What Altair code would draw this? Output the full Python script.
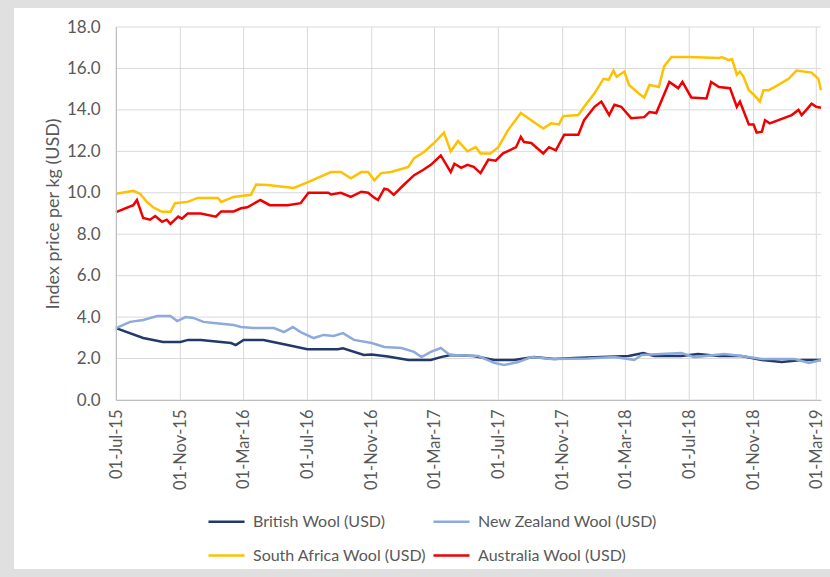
import altair as alt
import pandas as pd

# Wool price indices, USD per kg
SERIES = [
    "British Wool (USD)",
    "New Zealand Wool (USD)",
    "South Africa Wool (USD)",
    "Australia Wool (USD)",
]
COLORS = ["#22396A", "#8EAADB", "#FFC000", "#F00000"]

british_dates = [
    "2015-07-01", "2015-08-22", "2015-09-29", "2015-11-01", "2015-11-16", "2015-12-10",
    "2016-02-06", "2016-02-15", "2016-03-01", "2016-04-08", "2016-05-24", "2016-07-01",
    "2016-08-28", "2016-09-07", "2016-10-17", "2016-11-01", "2016-12-02", "2017-01-10",
    "2017-02-22", "2017-03-13", "2017-04-01", "2017-05-15", "2017-06-23", "2017-07-31",
    "2017-09-07", "2017-10-16", "2017-11-23", "2018-01-14", "2018-03-07", "2018-04-04",
    "2018-04-25", "2018-06-16", "2018-07-18", "2018-08-27", "2018-10-09", "2018-11-17",
    "2018-12-25", "2019-02-01", "2019-03-10",
]
british_values = [
    3.47, 2.99, 2.80, 2.80, 2.90, 2.90,
    2.75, 2.65, 2.90, 2.90, 2.65, 2.45,
    2.45, 2.50, 2.17, 2.20, 2.10, 1.93,
    1.93, 2.07, 2.17, 2.12, 1.93, 1.93,
    2.07, 1.98, 2.03, 2.07, 2.12, 2.27,
    2.12, 2.12, 2.22, 2.12, 2.12, 1.93,
    1.83, 1.93, 1.93,
]

nz_dates = [
    "2015-07-01", "2015-07-28", "2015-08-22", "2015-09-18", "2015-10-13", "2015-10-26",
    "2015-11-11", "2015-11-26", "2015-12-15", "2016-01-04", "2016-02-11", "2016-02-25",
    "2016-03-20", "2016-04-28", "2016-05-17", "2016-06-03", "2016-06-18", "2016-07-13",
    "2016-08-01", "2016-08-20", "2016-09-07", "2016-09-28", "2016-11-01", "2016-11-25",
    "2016-12-28", "2017-01-21", "2017-02-04", "2017-02-22", "2017-03-13", "2017-03-28",
    "2017-04-01", "2017-05-24", "2017-06-23", "2017-07-12", "2017-08-08", "2017-09-02",
    "2017-10-10", "2017-12-19", "2018-02-08", "2018-03-18", "2018-04-01", "2018-05-08",
    "2018-06-16", "2018-07-11", "2018-09-06", "2018-10-09", "2018-11-17", "2019-01-19",
    "2019-02-15", "2019-03-10",
]
nz_values = [
    3.47, 3.77, 3.86, 4.05, 4.05, 3.81,
    4.00, 3.96, 3.77, 3.72, 3.62, 3.52,
    3.47, 3.47, 3.28, 3.52, 3.28, 2.99,
    3.14, 3.09, 3.23, 2.90, 2.75, 2.56,
    2.51, 2.32, 2.07, 2.32, 2.51, 2.22,
    2.17, 2.12, 1.79, 1.69, 1.83, 2.07,
    1.98, 2.00, 2.07, 1.93, 2.17, 2.22,
    2.27, 2.07, 2.22, 2.12, 1.98, 1.98,
    1.79, 1.93,
]

sa_dates = [
    "2015-07-01", "2015-08-03", "2015-08-16", "2015-08-29", "2015-09-10", "2015-09-27",
    "2015-10-13", "2015-10-22", "2015-11-15", "2015-12-04", "2016-01-12", "2016-01-18",
    "2016-02-11", "2016-03-15", "2016-03-25", "2016-04-16", "2016-06-05", "2016-07-01",
    "2016-08-15", "2016-09-03", "2016-09-22", "2016-10-12", "2016-10-25", "2016-11-06",
    "2016-11-19", "2016-12-08", "2017-01-10", "2017-01-21", "2017-02-09", "2017-02-28",
    "2017-03-19", "2017-04-01", "2017-04-15", "2017-05-03", "2017-05-19", "2017-05-28",
    "2017-06-16", "2017-07-01", "2017-07-19", "2017-08-13", "2017-09-02", "2017-09-25",
    "2017-10-10", "2017-10-25", "2017-11-02", "2017-12-01", "2017-12-12", "2018-01-01",
    "2018-01-18", "2018-01-28", "2018-02-06", "2018-02-12", "2018-02-27", "2018-03-08",
    "2018-03-26", "2018-04-06", "2018-04-16", "2018-05-04", "2018-05-14", "2018-05-28",
    "2018-06-30", "2018-08-27", "2018-09-01", "2018-09-15", "2018-09-21", "2018-09-30",
    "2018-10-06", "2018-10-13", "2018-10-23", "2018-11-03", "2018-11-13", "2018-11-20",
    "2018-11-30", "2018-12-11", "2019-01-07", "2019-01-22", "2019-02-20", "2019-03-05",
    "2019-03-10",
]
sa_values = [
    9.95, 10.10, 9.95, 9.56, 9.30, 9.08,
    9.08, 9.50, 9.56, 9.75, 9.75, 9.56,
    9.80, 9.90, 10.40, 10.38, 10.23, 10.50,
    11.00, 11.00, 10.70, 11.00, 11.00, 10.60,
    10.95, 11.00, 11.25, 11.67, 11.97, 12.40,
    12.90, 12.00, 12.50, 12.00, 12.20, 11.90,
    11.90, 12.20, 13.00, 13.85, 13.50, 13.10,
    13.35, 13.30, 13.70, 13.75, 14.15, 14.80,
    15.50, 15.45, 15.90, 15.60, 15.85, 15.20,
    14.80, 14.60, 15.20, 15.10, 16.10, 16.55,
    16.55, 16.50, 16.55, 16.40, 16.45, 15.70,
    15.85, 15.60, 14.95, 14.70, 14.40, 14.95,
    14.95, 15.10, 15.50, 15.90, 15.80, 15.50,
    14.95,
]

aus_dates = [
    "2015-07-01", "2015-08-03", "2015-08-10", "2015-08-22", "2015-09-04", "2015-09-14",
    "2015-09-27", "2015-10-06", "2015-10-13", "2015-10-28", "2015-11-04", "2015-11-15",
    "2015-12-10", "2016-01-08", "2016-01-18", "2016-02-11", "2016-02-25", "2016-03-08",
    "2016-04-02", "2016-04-20", "2016-05-24", "2016-06-18", "2016-07-03", "2016-08-10",
    "2016-08-15", "2016-09-03", "2016-09-22", "2016-10-12", "2016-10-25", "2016-11-04",
    "2016-11-13", "2016-11-25", "2016-12-02", "2016-12-13", "2017-01-02", "2017-01-21",
    "2017-02-07", "2017-02-22", "2017-03-13", "2017-04-01", "2017-04-08", "2017-04-21",
    "2017-05-03", "2017-05-15", "2017-05-28", "2017-06-12", "2017-06-26", "2017-07-10",
    "2017-08-04", "2017-08-13", "2017-08-19", "2017-09-02", "2017-09-25", "2017-10-06",
    "2017-10-19", "2017-11-04", "2017-12-01", "2017-12-12", "2018-01-01", "2018-01-14",
    "2018-01-29", "2018-02-08", "2018-02-21", "2018-03-12", "2018-04-06", "2018-04-16",
    "2018-04-29", "2018-05-24", "2018-06-10", "2018-06-18", "2018-07-05", "2018-08-03",
    "2018-08-12", "2018-08-27", "2018-09-17", "2018-09-30", "2018-10-06", "2018-10-23",
    "2018-11-01", "2018-11-07", "2018-11-17", "2018-11-23", "2018-12-02", "2019-01-13",
    "2019-01-26", "2019-02-01", "2019-02-10", "2019-02-20", "2019-03-01", "2019-03-10",
]
aus_values = [
    9.07, 9.40, 9.65, 8.78, 8.70, 8.88,
    8.60, 8.70, 8.50, 8.85, 8.75, 9.00,
    9.00, 8.85, 9.10, 9.10, 9.25, 9.30,
    9.65, 9.40, 9.40, 9.50, 10.00, 10.00,
    9.92, 10.00, 9.80, 10.05, 10.00, 9.80,
    9.65, 10.20, 10.15, 9.90, 10.40, 10.85,
    11.10, 11.35, 11.80, 11.00, 11.40, 11.20,
    11.35, 11.25, 10.95, 11.60, 11.55, 11.90,
    12.20, 12.70, 12.45, 12.40, 11.90, 12.20,
    12.05, 12.80, 12.80, 13.50, 14.15, 14.40,
    13.75, 14.25, 14.15, 13.60, 13.65, 13.90,
    13.85, 15.35, 15.05, 15.35, 14.60, 14.55,
    15.35, 15.10, 15.05, 14.15, 14.40, 13.30,
    13.30, 12.90, 12.95, 13.50, 13.35, 13.75,
    14.00, 13.75, 14.00, 14.30, 14.15, 14.10,
]

Y_TICKS = [0, 2, 4, 6, 8, 10, 12, 14, 16, 18]
X_TICKS = [
    "2015-07-01", "2015-11-01", "2016-03-01", "2016-07-01", "2016-11-01", "2017-03-01",
    "2017-07-01", "2017-11-01", "2018-03-01", "2018-07-01", "2018-11-01", "2019-03-01",
]
X_START, X_END = "2015-07-01", "2019-03-10"

rows = []
for name, dates, values in [
    (SERIES[0], british_dates, british_values),
    (SERIES[1], nz_dates, nz_values),
    (SERIES[2], sa_dates, sa_values),
    (SERIES[3], aus_dates, aus_values),
]:
    for d, v in zip(dates, values):
        rows.append({"date": d + "T00:00:00", "price": v, "series": name})
df = pd.DataFrame(rows)

FONT = "Lato"
TEXT = "#595959"
GRID = "#d9d9d9"
W, H = 705, 373
PAD_L, PAD_T = 116, 27


def local(d):
    return d + "T00:00:00"


x_scale = alt.Scale(domain=[local(X_START), local(X_END)])
y_scale = alt.Scale(domain=[0, 18], nice=False)

x_axis = alt.Axis(
    values=[alt.DateTime(year=int(t[:4]), month=int(t[5:7]), date=1) for t in X_TICKS],
    format="%d-%b-%y", labelAngle=270, labelAlign="right",
    labelBaseline="middle", labelPadding=9, ticks=False, title=None,
    grid=False, zindex=1, labelFontSize=16.5,
)
y_axis = alt.Axis(
    values=Y_TICKS, format=".1f", ticks=False, labelPadding=16,
    title="Index price per kg (USD)", titlePadding=4, grid=False, zindex=1,
    labelFontSize=17, titleFontSize=18,
)

# white card behind the chart body
card = alt.Chart(pd.DataFrame({"k": [0]})).mark_rect(color="white").encode(
    x=alt.value(-102), x2=alt.value(830 - PAD_L),
    y=alt.value(-19), y2=alt.value(569 - PAD_T),
)

# gridlines, drawn above the card and below the series
h_grid = alt.Chart(pd.DataFrame({"v": Y_TICKS})).mark_rule(
    color=GRID, strokeWidth=1
).encode(y=alt.Y("v:Q", scale=y_scale, axis=y_axis))

v_grid = alt.Chart(pd.DataFrame({"d": [local(t) for t in X_TICKS]})).mark_rule(
    color=GRID, strokeWidth=1
).encode(x=alt.X("d:T", scale=x_scale, axis=x_axis))

lines = alt.Chart(df).mark_line(strokeWidth=2.5, interpolate="linear").encode(
    x=alt.X("date:T", scale=x_scale, axis=x_axis),
    y=alt.Y("price:Q", scale=y_scale, axis=y_axis),
    color=alt.Color(
        "series:N",
        scale=alt.Scale(domain=SERIES, range=COLORS),
        legend=alt.Legend(
            orient="none", legendX=91, legendY=475, direction="horizontal",
            columns=2, title=None, symbolType="stroke", symbolSize=1300,
            symbolStrokeWidth=2.5, labelOffset=7, columnPadding=1, rowPadding=6,
            labelFont=FONT, labelFontSize=16, labelColor=TEXT, labelLimit=400,
        ),
        sort=SERIES,
    ),
    order=alt.Order("date:T"),
)

chart = alt.layer(card, h_grid, v_grid, lines).properties(
    width=W, height=H,
    autosize=alt.AutoSizeParams(type="none"),
    padding={"left": PAD_L, "top": PAD_T, "right": 830 - PAD_L - W, "bottom": 577 - PAD_T - H},
).configure(
    background="#e0e0e0",
).configure_view(
    stroke=None,
).configure_axis(
    labelFont=FONT, labelColor=TEXT,
    titleFont=FONT, titleColor=TEXT, titleFontWeight="normal",
    domainColor="#bfbfbf", domainWidth=1,
)

chart.save("out.html", embed_options={"renderer": "svg", "actions": False})
